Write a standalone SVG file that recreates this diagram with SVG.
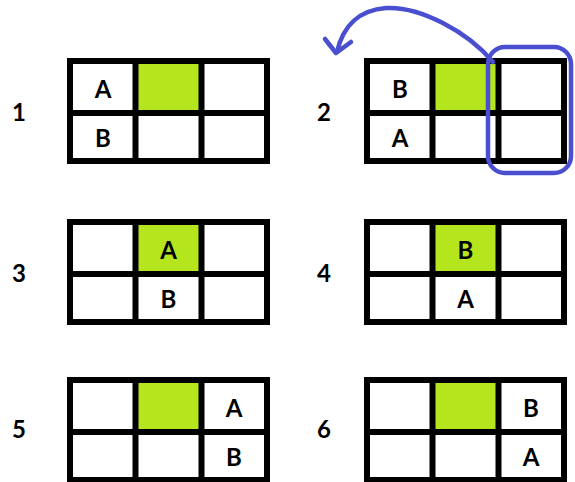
<svg xmlns="http://www.w3.org/2000/svg" xmlns:xlink="http://www.w3.org/1999/xlink" width="575" height="482" viewBox="0 0 575 482">
<style>
.frame{fill:none;stroke:#000;stroke-width:6}
.div{stroke:#000;stroke-width:6}
.cell{fill:#fff}
.green{fill:#b5e51d}
.lt{font-family:Lato,"Open Sans","Liberation Sans",sans-serif;font-weight:700;font-size:24px;fill:#000;text-anchor:middle}
.num{font-family:Lato,"Open Sans","Liberation Sans",sans-serif;font-weight:700;font-size:24px;fill:#000;text-anchor:middle}
.blue{fill:none;stroke:#4a4fcf;stroke-width:4.5;stroke-linecap:round;stroke-linejoin:round}
</style>
<defs>
<g id="grid">
<rect class="cell" x="0" y="0" width="203" height="106"/>
<rect class="green" x="71" y="6" width="61" height="46"/>
<rect class="frame" x="3" y="3" width="197" height="100"/>
<line class="div" x1="68.5" y1="0" x2="68.5" y2="106"/>
<line class="div" x1="134.5" y1="0" x2="134.5" y2="106"/>
<line class="div" x1="0" y1="55" x2="203" y2="55"/>
</g>
</defs>
<rect width="575" height="482" fill="#fff"/>
<g id="node1">
<use xlink:href="#grid" x="67" y="58"/>
<text class="num" x="19" y="121">1</text>
<text class="lt" x="103" y="98">A</text>
<text class="lt" x="103" y="147">B</text>
</g>
<g id="node2">
<use xlink:href="#grid" x="364" y="58"/>
<text class="num" x="324" y="121">2</text>
<text class="lt" x="400" y="98">B</text>
<text class="lt" x="400" y="147">A</text>
</g>
<g id="node3">
<use xlink:href="#grid" x="67" y="219"/>
<text class="num" x="19" y="282">3</text>
<text class="lt" x="168.5" y="259">A</text>
<text class="lt" x="168.5" y="308">B</text>
</g>
<g id="node4">
<use xlink:href="#grid" x="364" y="219"/>
<text class="num" x="324" y="282">4</text>
<text class="lt" x="465.5" y="259">B</text>
<text class="lt" x="465.5" y="308">A</text>
</g>
<g id="node5">
<use xlink:href="#grid" x="67" y="377"/>
<text class="num" x="19" y="438">5</text>
<text class="lt" x="234" y="417">A</text>
<text class="lt" x="234" y="466">B</text>
</g>
<g id="node6">
<use xlink:href="#grid" x="364" y="377"/>
<text class="num" x="324" y="438">6</text>
<text class="lt" x="531" y="417">B</text>
<text class="lt" x="531" y="466">A</text>
</g>
<g id="highlight">
<rect class="blue" x="488" y="47" width="83" height="126" rx="17" ry="17"/>
</g>
<g id="connectors">
<path class="blue" d="M 493,62 C 468,32 420,6 386,8 C 360,10 343,25 337,52"/>
<path class="blue" d="M 325,39 L 336,53 L 351,42"/>
</g>
</svg>
